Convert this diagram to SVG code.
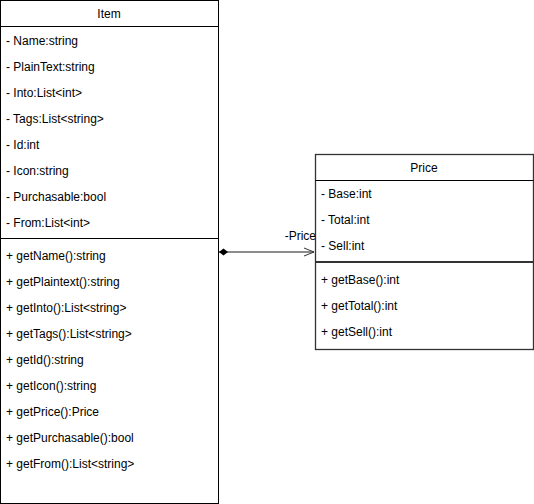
<svg xmlns="http://www.w3.org/2000/svg" width="534" height="504" viewBox="0 0 534 504">
<defs>
<style>
text{font-family:"Liberation Sans",Arial,Helvetica,sans-serif;font-size:12px;fill:#000}
.t{text-anchor:middle}
.box{fill:#fff;stroke:#000;stroke-width:1}
.ln{stroke:#000;stroke-width:1}
.ln2{stroke:#333;stroke-width:2}
.box2{fill:#fff;stroke:#333;stroke-width:1.3}
</style>
<marker id="dia" viewBox="0 0 10 10" refX="0" refY="5" markerWidth="10" markerHeight="10" markerUnits="userSpaceOnUse" orient="auto">
<path d="M0,5 L4.5,1.5 L9,5 L4.5,8.5 Z" fill="#000"/>
</marker>
<marker id="arr" viewBox="0 0 12 12" refX="11" refY="6" markerWidth="12" markerHeight="12" markerUnits="userSpaceOnUse" orient="auto">
<path d="M1,2 L11,6 L1,10" fill="none" stroke="#333" stroke-width="1"/>
</marker>
</defs>
<g id="connectors">
<line x1="219" y1="252" x2="314" y2="252" stroke="#666" stroke-width="1.5" marker-start="url(#dia)" marker-end="url(#arr)"/>
<text x="316" y="240" text-anchor="end">-Price</text>
</g>
<g id="item">
<rect class="box" x="0.5" y="0.5" width="218" height="503"/>
<line class="ln" x1="0.5" y1="26.5" x2="218.5" y2="26.5"/>
<line class="ln" x1="0.5" y1="238.5" x2="218.5" y2="238.5"/>
<text class="t" x="109" y="18">Item</text>
<text x="6" y="44.5">- Name:string</text>
<text x="6" y="70.5">- PlainText:string</text>
<text x="6" y="96.5">- Into:List&lt;int&gt;</text>
<text x="6" y="122.5">- Tags:List&lt;string&gt;</text>
<text x="6" y="148.5">- Id:int</text>
<text x="6" y="174.5">- Icon:string</text>
<text x="6" y="200.5">- Purchasable:bool</text>
<text x="6" y="226.5">- From:List&lt;int&gt;</text>
<text x="6" y="260">+ getName():string</text>
<text x="6" y="286">+ getPlaintext():string</text>
<text x="6" y="312">+ getInto():List&lt;string&gt;</text>
<text x="6" y="338">+ getTags():List&lt;string&gt;</text>
<text x="6" y="364">+ getId():string</text>
<text x="6" y="390">+ getIcon():string</text>
<text x="6" y="416">+ getPrice():Price</text>
<text x="6" y="442">+ getPurchasable():bool</text>
<text x="6" y="468">+ getFrom():List&lt;string&gt;</text>
</g>
<g id="price">
<rect class="box2" x="315.5" y="154.5" width="218" height="195"/>
<line class="ln" x1="315.5" y1="180.5" x2="533.5" y2="180.5"/>
<line class="ln2" x1="315.5" y1="262" x2="533.5" y2="262"/>
<text class="t" x="424" y="172">Price</text>
<text x="321" y="198">- Base:int</text>
<text x="321" y="224">- Total:int</text>
<text x="321" y="250">- Sell:int</text>
<text x="321" y="284">+ getBase():int</text>
<text x="321" y="310">+ getTotal():int</text>
<text x="321" y="336">+ getSell():int</text>
</g>
</svg>
